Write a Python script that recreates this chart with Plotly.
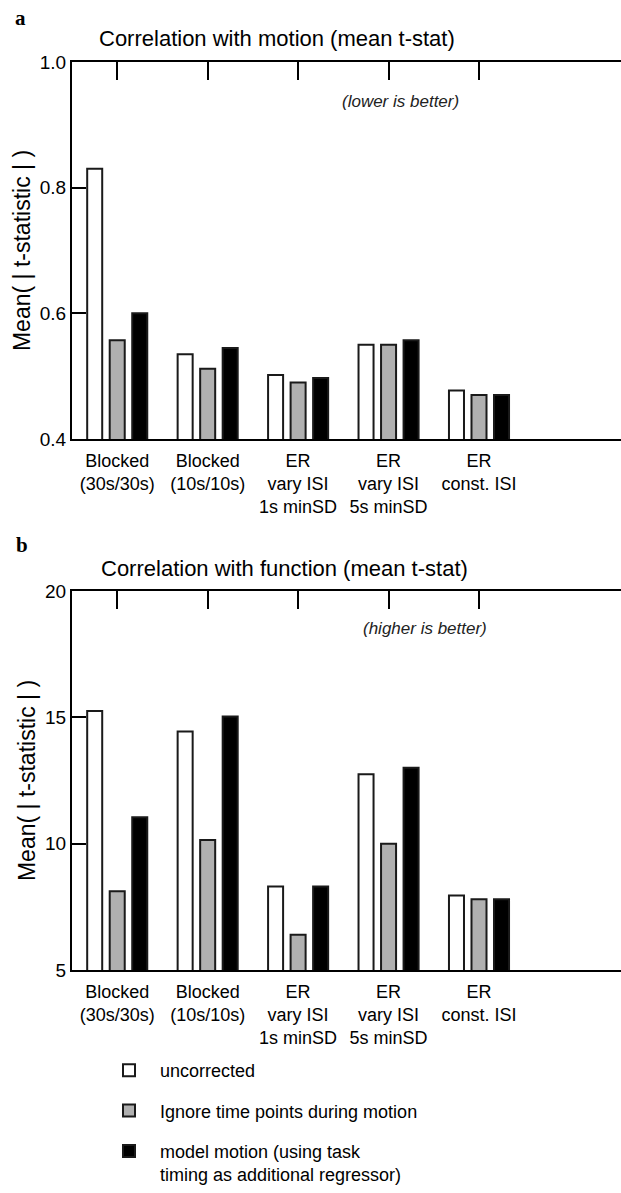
import plotly.graph_objects as go

categories = ["Blocked<br>(30s/30s)", "Blocked<br>(10s/10s)", "ER<br>vary ISI<br>1s minSD",
              "ER<br>vary ISI<br>5s minSD", "ER<br>const. ISI"]
series_names = ["uncorrected", "Ignore time points during motion",
                "model motion (using task<br>timing as additional regressor)"]
motion_uncorrected = [0.83, 0.535, 0.502, 0.55, 0.477]
motion_ignore = [0.557, 0.512, 0.49, 0.55, 0.47]
motion_model = [0.60, 0.545, 0.497, 0.557, 0.47]
function_uncorrected = [15.25, 14.44, 8.3, 12.75, 7.95]
function_ignore = [8.12, 10.15, 6.4, 10.0, 7.8]
function_model = [11.05, 15.03, 8.3, 13.0, 7.8]
motion_ticks = [0.4, 0.6, 0.8, 1.0]
motion_ticktext = ["0.4", "0.6", "0.8", "1.0"]
function_ticks = [5, 10, 15, 20]
function_ticktext = ["5", "10", "15", "20"]

fills = ["#ffffff", "#b0b0b0", "#000000"]
outline = "#1a1a1a"
FONT = "Liberation Sans, Arial, sans-serif"
W, H = 621, 1193
L = 72
PW = W - L

xpos = list(range(len(categories)))

fig = go.Figure()
for i, (vals, name) in enumerate(zip([motion_uncorrected, motion_ignore, motion_model], series_names)):
    fig.add_trace(go.Bar(x=xpos, y=vals, name=name, marker=dict(color=fills[i], line=dict(color=outline, width=2)),
                         xaxis="x", yaxis="y", showlegend=False, offsetgroup=str(i)))
for i, (vals, name) in enumerate(zip([function_uncorrected, function_ignore, function_model], series_names)):
    fig.add_trace(go.Bar(x=xpos, y=vals, name=name, marker=dict(color=fills[i], line=dict(color=outline, width=2)),
                         xaxis="x2", yaxis="y2", showlegend=True, legendgroup=str(i), offsetgroup=str(i)))


def py(p):
    return 1 - p / H


def px_(p):
    return (p - L) / PW


xrange_ = [-0.5, 5.57]
common_x = dict(range=xrange_, showline=True, linecolor="black", linewidth=2, showgrid=False, zeroline=False,
                tickmode="array", tickvals=xpos, ticktext=categories, ticks="inside", ticklen=18,
                tickwidth=1.5, tickcolor="black", mirror="ticks", layer="below traces",
                ticklabelstandoff=4, tickangle=0, automargin=False,
                tickfont=dict(family=FONT, size=18, color="black"))
common_y = dict(showline=True, linecolor="black", linewidth=2, showgrid=False, zeroline=False,
                ticks="inside", ticklen=14, tickwidth=2, tickcolor="black", automargin=False,
                tickfont=dict(family=FONT, size=19, color="black"),
                title=dict(text="Mean( | t-statistic | )", font=dict(family=FONT, size=23, color="black"),
                           standoff=3))

fig.update_layout(
    width=W, height=H,
    margin=dict(l=L, r=0, t=0, b=0),
    paper_bgcolor="white", plot_bgcolor="white",
    barmode="group", bargap=0.253, bargroupgap=0.333,
    font=dict(family=FONT, color="black"),
    xaxis=dict(domain=[0, 1], anchor="y", **common_x),
    yaxis=dict(domain=[py(439), py(62)], anchor="x", range=[0.4, 1.0], tickmode="array",
               tickvals=motion_ticks, ticktext=motion_ticktext, **common_y),
    xaxis2=dict(domain=[0, 1], anchor="y2", **common_x),
    yaxis2=dict(domain=[py(970), py(591)], anchor="x2", range=[5, 20], tickmode="array",
                tickvals=function_ticks, ticktext=function_ticktext, **common_y),
    legend=dict(x=px_(98), xanchor="left", y=0, yanchor="bottom",
                valign="top", font=dict(family=FONT, size=18, color="black"), itemwidth=52, tracegroupgap=14,
                bgcolor="rgba(0,0,0,0)"),
)

annots = [
    dict(text="<b>a</b>", x=px_(13), y=py(18), font=dict(family="Liberation Serif, serif", size=21)),
    dict(text="<b>b</b>", x=px_(14), y=py(545), font=dict(family="Liberation Serif, serif", size=21)),
]
for a in annots:
    fig.add_annotation(xref="paper", yref="paper", xanchor="left", yanchor="middle", showarrow=False, **a)

for txt, xc, yc in [("Correlation with motion (mean t-stat)", 277, 38),
                    ("Correlation with function (mean t-stat)", 284, 568)]:
    fig.add_annotation(text=txt, xref="paper", yref="paper", x=px_(xc), y=py(yc), xanchor="center",
                       yanchor="middle", showarrow=False, font=dict(family=FONT, size=22, color="black"))
for txt, xc, yc in [("<i>(lower is better)</i>", 400, 102), ("<i>(higher is better)</i>", 425, 628)]:
    fig.add_annotation(text=txt, xref="paper", yref="paper", x=px_(xc), y=py(yc), xanchor="center",
                       yanchor="middle", showarrow=False, font=dict(family=FONT, size=17, color="#222"))

fig.write_html("out.html")
